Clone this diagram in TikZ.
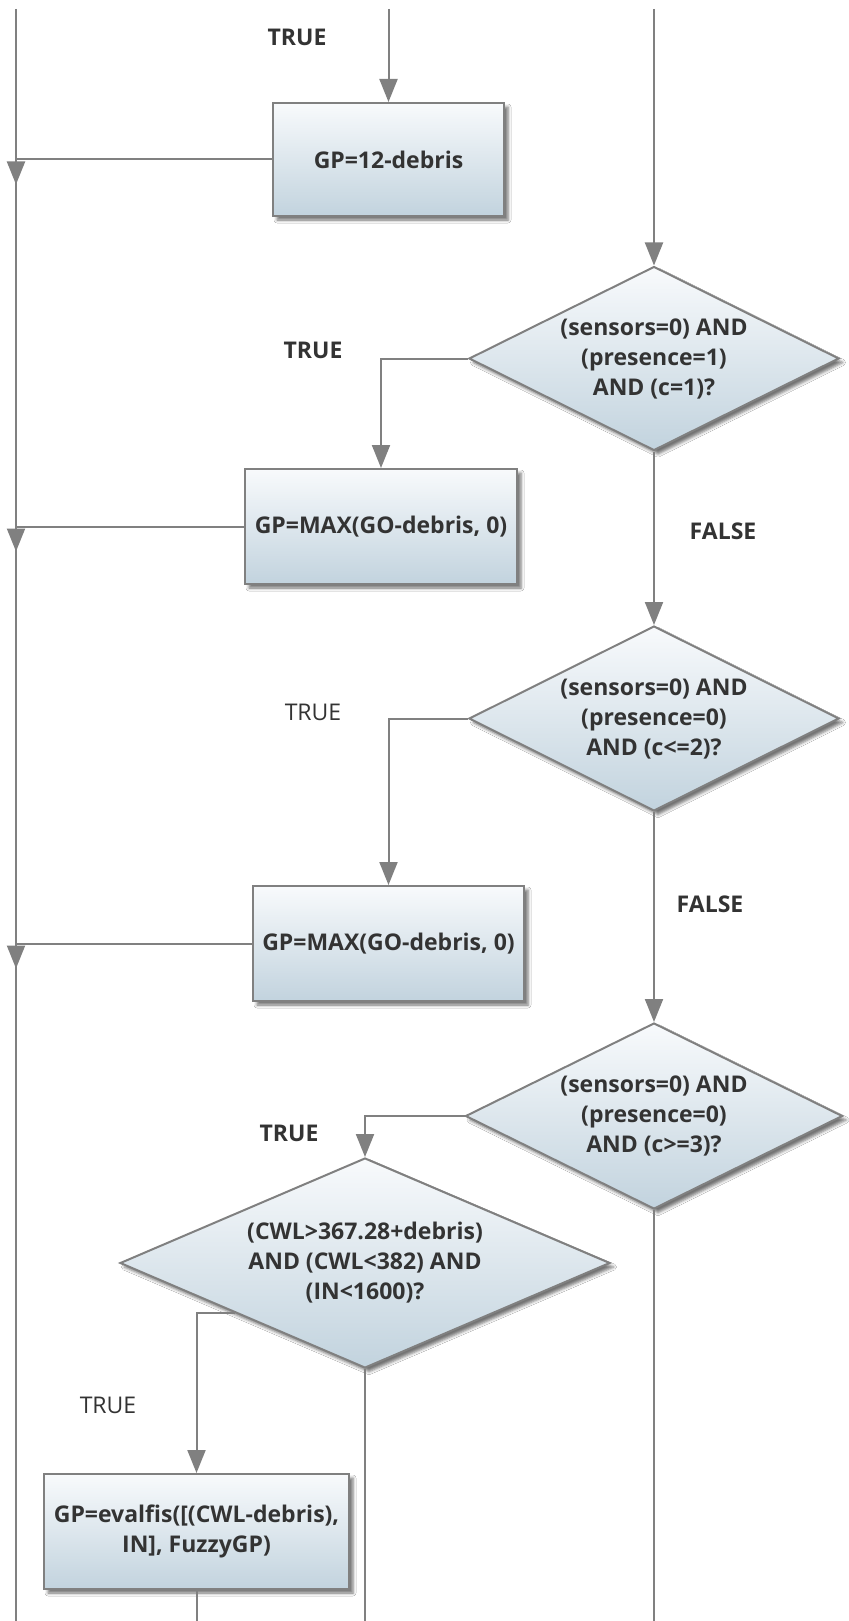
\documentclass[tikz,border=0pt]{standalone}
\usepackage{fontspec}
\setmainfont{Open Sans}
\usetikzlibrary{shapes.geometric,arrows.meta,calc,shadows.blur}
\definecolor{ln}{HTML}{808080}
\definecolor{tx}{HTML}{333333}
\definecolor{topc}{HTML}{F8FAFC}
\definecolor{botc}{HTML}{C2D3DE}
\begin{document}
\begin{tikzpicture}[x=0.5pt,y=-0.5pt,
  font=\fontsize{11.5}{15}\selectfont\bfseries,
  box/.style={draw=ln, line width=1pt, top color=topc, bottom color=botc,
    text=tx, align=center, inner sep=0pt,
    blur shadow={shadow xshift=2pt,shadow yshift=-2pt,shadow blur radius=1.5pt,shadow opacity=55}},
  proc/.style={box, rectangle},
  dec/.style={box, diamond, shape aspect=2},
  conn/.style={draw=ln, line width=1pt},
  arr/.style={conn, -{Triangle[length=11.5pt,width=9pt]}},
  lab/.style={text=tx, inner sep=0pt},
  labreg/.style={lab, font=\fontsize{11.5}{15}\selectfont\mdseries},
]
\useasboundingbox (0,0) rectangle (849,1621);
\fill[white] (0,0) rectangle (849,1621);

% nodes
\node[proc, minimum width=115.5pt, minimum height=56.5pt] (B1) at (388.5,159.5) {GP=12-debris};
\node[dec, minimum width=185pt, minimum height=92pt] (D1) at (654,358.5) {(sensors=0) AND\\(presence=1)\\AND (c=1)?};
\node[proc, minimum width=136pt, minimum height=57.5pt] (B2) at (381,526.5) {GP=MAX(GO-debris, 0)};
\node[dec, minimum width=185pt, minimum height=92.5pt] (D2) at (654,718.5) {(sensors=0) AND\\(presence=0)\\AND (c<=2)?};
\node[proc, minimum width=135.5pt, minimum height=57.5pt] (B3) at (388.5,943.5) {GP=MAX(GO-debris, 0)};
\node[dec, minimum width=188.5pt, minimum height=93pt] (D3) at (654,1116) {(sensors=0) AND\\(presence=0)\\AND (c>=3)?};
\node[dec, shape aspect=2.33, minimum width=245pt, minimum height=105pt] (D4) at (365,1263) {(CWL>367.28+debris)\\AND (CWL<382) AND\\(IN<1600)?};
\node[proc, minimum width=152.5pt, minimum height=57.5pt] (B5) at (196.5,1531.5) {GP=evalfis([(CWL-debris),\\IN], FuzzyGP)};

% labels
\node[lab] (t1) at (297,37) {TRUE};
\node[lab] (t2) at (313,350) {TRUE};
\node[lab] (f1) at (723,531) {FALSE};
\node[labreg] (t3) at (313,712) {TRUE};
\node[lab] (f2) at (710,904) {FALSE};
\node[lab] (t4) at (289,1133) {TRUE};
\node[labreg] (t5) at (108,1405) {TRUE};

% coordinates
\coordinate (LT) at (16,9);
\coordinate (LB) at (16,1621);
\coordinate (TT) at (388.5,9);
\coordinate (RT) at (654,9);
\coordinate (J1) at (16,159.5);
\coordinate (J2) at (16,526.5);
\coordinate (J3) at (16,943.5);
\coordinate (E4) at ($(D4.west)!0.47!(D4.south)$);

% left bus
\draw[conn] (LT) -- (LB);
\draw[conn] (B1.west) -- (J1);
\draw[conn] (B2.west) -- (J2);
\draw[conn] (B3.west) -- (J3);
\draw[arr] (J1) -- ++(0,25);
\draw[arr] (J2) -- ++(0,25);
\draw[arr] (J3) -- ++(0,25);

% connectors
\draw[arr] (TT) -- (B1.north);
\draw[arr] (RT) -- (D1.north);
\draw[arr] (D1.west) -| (B2.north);
\draw[arr] (D1.south) -- (D2.north);
\draw[arr] (D2.west) -| (B3.north);
\draw[arr] (D2.south) -- (D3.north);
\draw[arr] (D3.west) -| (D4.north);
\draw[arr] (E4) -| (B5.north);
\draw[conn] (D3.south) -- (D3.south |- LB);
\draw[conn] (D4.south) -- (D4.south |- LB);
\draw[conn] (B5.south) -- (B5.south |- LB);
\end{tikzpicture}
\end{document}
